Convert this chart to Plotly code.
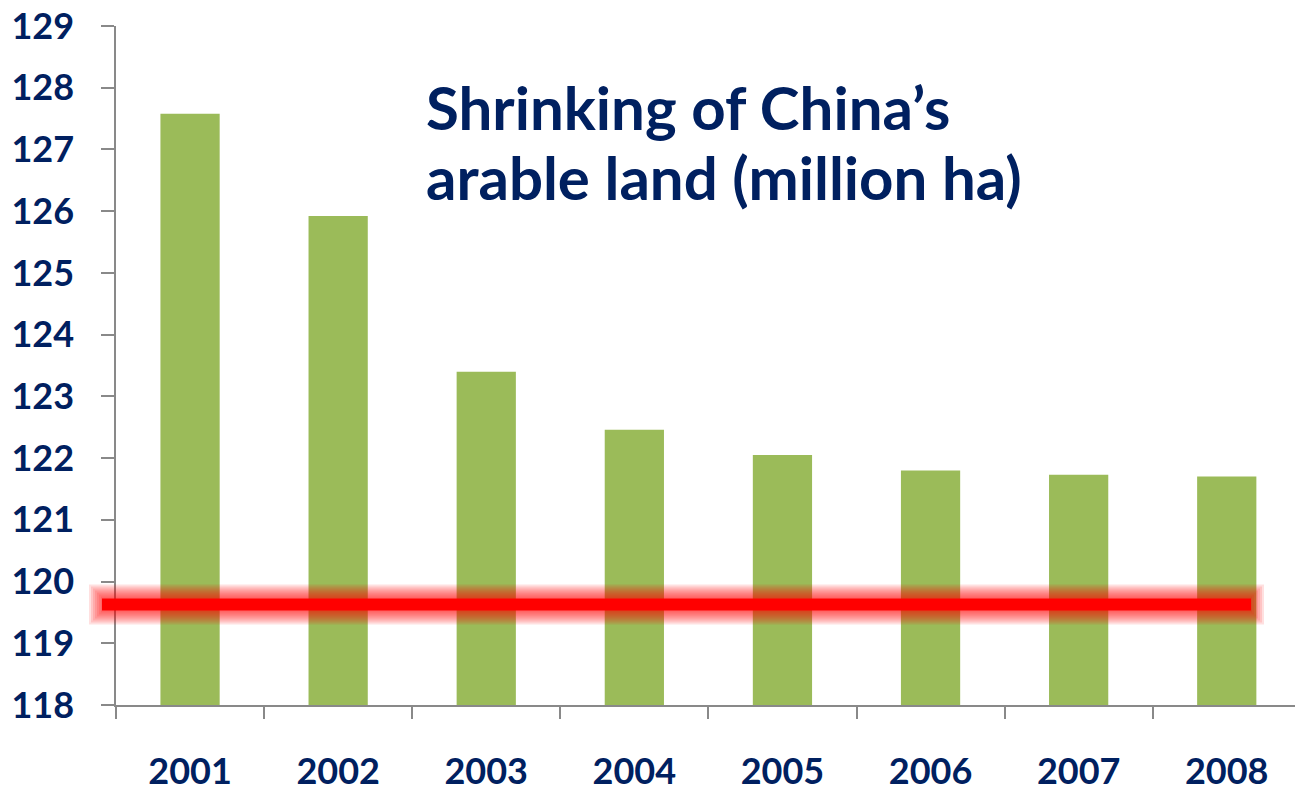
import plotly.graph_objects as go

years = ["2001", "2002", "2003", "2004", "2005", "2006", "2007", "2008"]
arable_land = [127.58, 125.92, 123.40, 122.46, 122.05, 121.80, 121.73, 121.70]
red_line_value = 119.63
y_ticks = list(range(118, 130))
title_line1 = "Shrinking of China’s"
title_line2 = "arable land (million ha)"

NAVY = "#002060"
GREEN = "#9BBB59"
AXIS = "#898989"
FONT = "Lato"

W, H = 1295, 791
ML, MR, MT, MB = 116, 0, 26, 86
plot_w = W - ML - MR
plot_h = H - MT - MB
cat_px = 148.1
x_max = -0.5 + plot_w / cat_px
px_per_unit = plot_h / (129 - 118)

fig = go.Figure()
fig.add_trace(go.Bar(
    x=years, y=[v - 118 for v in arable_land], base=118,
    marker=dict(color=GREEN, line=dict(width=0)), width=0.4,
    hoverinfo="skip", showlegend=False,
))

# red reference line with glow
x0p = (102 - ML) / plot_w
x1p = (1251 - ML) / plot_w
shapes = []
for half in [20, 18, 16, 14, 12, 10, 8]:
    ext = half - 7
    shapes.append(dict(
        type="rect", xref="paper", yref="y",
        x0=x0p - ext / plot_w, x1=x1p + ext / plot_w,
        y0=red_line_value - half / px_per_unit, y1=red_line_value + half / px_per_unit,
        fillcolor="red", opacity=0.12, line=dict(width=0), layer="above",
    ))
shapes.append(dict(
    type="rect", xref="paper", yref="y", x0=x0p, x1=x1p,
    y0=red_line_value - 6 / px_per_unit, y1=red_line_value + 6 / px_per_unit,
    fillcolor="#FF0000", line=dict(width=0), layer="above",
))

tick_font = dict(family=FONT, size=36, color=NAVY, weight="bold")
title_font = dict(family=FONT, size=60, color=NAVY, weight="bold")
tx = (424 - ML) / plot_w

fig.update_layout(
    width=W, height=H,
    margin=dict(l=ML, r=MR, t=MT, b=MB, pad=0, autoexpand=False),
    paper_bgcolor="white", plot_bgcolor="white",
    shapes=shapes,
    xaxis=dict(
        type="category", range=[-0.5, x_max], automargin=False,
        tickson="boundaries", ticks="outside", ticklen=12, tickwidth=1.5, tickcolor=AXIS,
        showline=True, linecolor=AXIS, linewidth=1.5, showgrid=False, zeroline=False,
        tickfont=tick_font, ticklabelstandoff=34,
    ),
    yaxis=dict(
        range=[118, 129], tickmode="array", tickvals=y_ticks, automargin=False,
        ticks="outside", ticklen=13, tickwidth=1.5, tickcolor=AXIS,
        showline=True, linecolor=AXIS, linewidth=1.5, showgrid=False, zeroline=False,
        tickfont=tick_font, ticklabelstandoff=20,
    ),
    annotations=[
        dict(text=title_line1, xref="paper", yref="paper",
             x=tx, y=1 - (69 - MT) / plot_h, xanchor="left", yanchor="top",
             align="left", showarrow=False, font=title_font),
        dict(text=title_line2, xref="paper", yref="paper",
             x=tx, y=1 - (139 - MT) / plot_h, xanchor="left", yanchor="top",
             align="left", showarrow=False, font=title_font),
    ],
)

fig.write_html("out.html")
